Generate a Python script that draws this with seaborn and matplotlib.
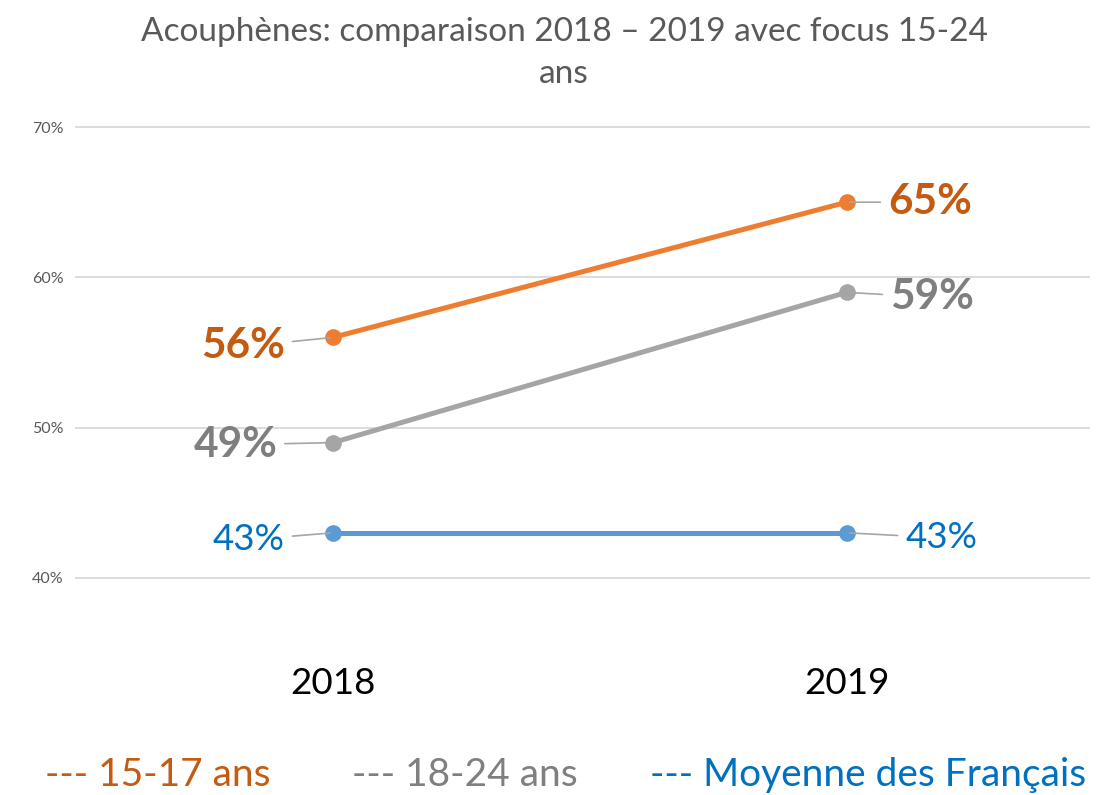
import seaborn as sns
import pandas as pd
import numpy as np
import matplotlib.pyplot as plt

years = ["2018", "2019"]
series = ["15-17 ans", "18-24 ans", "Moyenne des Français"]
vals_1517 = [56, 65]
vals_1824 = [49, 59]
vals_moy = [43, 43]

line_colors = ["#ED7D31", "#A5A5A5", "#5B9BD5"]
text_colors = ["#C55A11", "#7F7F7F", "#0070C0"]

df = pd.DataFrame({
    "annee": years * 3,
    "serie": [s for s in series for _ in years],
    "valeur": vals_1517 + vals_1824 + vals_moy,
})

sns.set_style("white")
plt.rcParams["font.family"] = ["Lato", "DejaVu Sans"]

fig = plt.figure(figsize=(11.02, 7.95), dpi=100)
ax = fig.add_axes([0.068, 0.1786, 0.921, 0.6805])

sns.lineplot(data=df, x="annee", y="valeur", hue="serie", palette=line_colors,
             marker="o", markersize=12, markeredgewidth=0, linewidth=3.6,
             legend=False, ax=ax)

ax.set_ylim(35, 71)
ax.set_xlim(-0.502, 1.473)
ax.set_yticks([40, 50, 60, 70])
ax.set_yticklabels([f"{v}%" for v in [40, 50, 60, 70]], color="#595959", fontsize=11.5)
ax.set_xticks([0, 1])
ax.set_xticklabels(years, fontsize=26.5, color="black")
ax.tick_params(axis="x", length=0, pad=10)
ax.tick_params(axis="y", length=0, pad=8)
ax.yaxis.grid(True, color="#D9D9D9", linewidth=1.3)
ax.set_axisbelow(True)
ax.set_xlabel("")
ax.set_ylabel("")
sns.despine(ax=ax, left=True, bottom=True)

# data labels with leader lines (offsets in points)
offsets = {
    0: [(-34.5, -6.5), (-40, -1.5), (-34.5, -5)],
    1: [(29.5, 0), (31, -3.6), (42, -3.6)],
}
all_vals = [vals_1517, vals_1824, vals_moy]
for i, vals in enumerate(all_vals):
    for j, v in enumerate(vals):
        dx, dy = offsets[j][i]
        bold = i != 2
        ax.annotate(f"{v}%", xy=(j, v), xytext=(dx, dy), textcoords="offset points",
                    ha="right" if j == 0 else "left", va="center",
                    fontsize=30.5 if bold else 26.5,
                    fontweight="bold" if bold else "normal",
                    color=text_colors[i],
                    arrowprops=dict(arrowstyle="-", color="#A6A6A6", lw=1.2,
                                    shrinkA=3, shrinkB=2))

fig.text(0.512, 1 - 53 / 795, "Acouphènes: comparaison 2018 – 2019 avec focus 15-24\nans",
         ha="center", va="center", fontsize=24, color="#595959", linespacing=1.5)

leg_x = [45, 352, 650]
for i, s in enumerate(series):
    fig.text(leg_x[i] / 1102, 1 - 775 / 795, f"--- {s}", ha="left", va="center",
             fontsize=28, color=text_colors[i])

fig.savefig("out.png", dpi=100)
